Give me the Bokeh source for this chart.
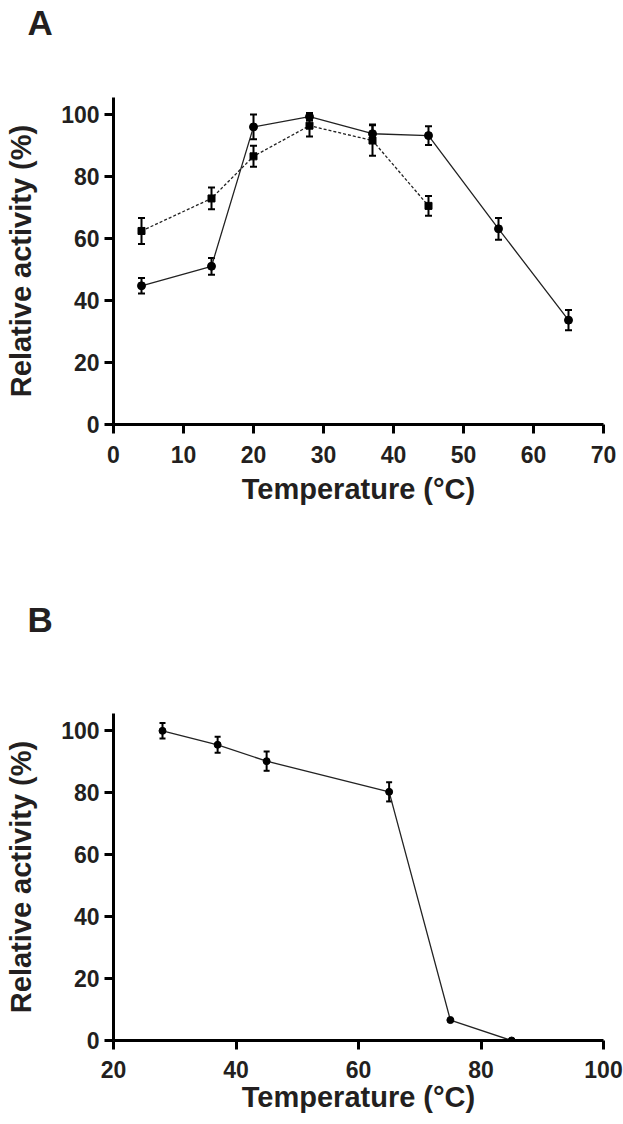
from bokeh.plotting import figure
from bokeh.models import Range1d, FixedTicker, Whisker, TeeHead, ColumnDataSource, Title
from bokeh.layouts import column
from bokeh.embed import file_html
from bokeh.resources import INLINE

FONT = "Liberation Sans"
INK = "#231f20"

# ---- data ----
a_temp_circle = [4, 14, 20, 28, 37, 45, 55, 65]
a_act_circle = [44.8, 51.1, 96.1, 99.4, 93.9, 93.3, 63.2, 33.7]
a_err_circle = [2.5, 2.7, 4.0, 1.2, 3.0, 3.0, 3.5, 3.3]

a_temp_square = [4, 14, 20, 28, 37, 45]
a_act_square = [62.5, 73.0, 86.6, 96.5, 91.7, 70.6]
a_err_square = [4.2, 3.5, 3.4, 3.5, 4.9, 3.2]

b_temp = [28, 37, 45, 65, 75, 85]
b_act = [100.0, 95.5, 90.2, 80.3, 6.6, 0.0]
b_err = [2.5, 2.6, 3.1, 3.1, 0.0, 0.0]

y_ticks = [0, 20, 40, 60, 80, 100]
a_x_ticks = [0, 10, 20, 30, 40, 50, 60, 70]
b_x_ticks = [20, 40, 60, 80, 100]

panel_letters = ["A", "B"]
X_LABEL = "Temperature (°C)"
Y_LABEL = "Relative activity (%)"


def style(p, xticks, letter, gap):
    p.grid.visible = False
    p.outline_line_color = None
    # spacer (closest to the frame) pushes the panel letter to the top
    spacer = Title(text=" ", text_font_size="10px", standoff=gap)
    p.add_layout(spacer, "above")
    p.title.text = letter
    p.title.align = "left"
    p.title.offset = -86
    p.title.standoff = 0
    p.title.text_font = FONT
    p.title.text_font_style = "bold"
    p.title.text_font_size = "35px"
    p.title.text_color = INK
    p.xaxis.ticker = FixedTicker(ticks=xticks)
    p.yaxis.ticker = FixedTicker(ticks=y_ticks)
    for ax in (p.xaxis[0], p.yaxis[0]):
        ax.axis_line_width = 3
        ax.axis_line_color = "black"
        ax.major_tick_line_width = 3
        ax.major_tick_line_color = "black"
        ax.major_tick_out = 9
        ax.major_tick_in = 0
        ax.minor_tick_line_color = None
        ax.major_label_text_font = FONT
        ax.major_label_text_font_style = "bold"
        ax.major_label_text_font_size = "23px"
        ax.major_label_text_color = INK
        ax.axis_label_text_font = FONT
        ax.axis_label_text_font_size = "29px"
        ax.axis_label_text_font_style = "bold"
        ax.axis_label_text_color = INK
    p.xaxis.major_label_standoff = 12
    p.xaxis.axis_label_standoff = 7
    p.yaxis.major_label_standoff = 5
    p.yaxis.axis_label_standoff = 21


def errorbars(p, xs, ys, es, size):
    keep = [i for i, e in enumerate(es) if e > 0]
    src = ColumnDataSource(dict(
        x=[xs[i] for i in keep],
        lower=[ys[i] - es[i] for i in keep],
        upper=[ys[i] + es[i] for i in keep],
    ))
    w = Whisker(base="x", lower="lower", upper="upper", source=src, dimension="height",
                line_width=2, line_color="black",
                upper_head=TeeHead(size=size, line_width=2, line_color="black"),
                lower_head=TeeHead(size=size, line_width=2, line_color="black"))
    p.add_layout(w)


# ---- panel A ----
pa = figure(output_backend="svg", toolbar_location=None,
            frame_width=490, frame_height=327,
            min_border_left=113, min_border_right=20,
            min_border_top=97, min_border_bottom=161,
            x_range=Range1d(0, 70), y_range=Range1d(0, 105.6),
            x_axis_label=X_LABEL, y_axis_label=Y_LABEL)
style(pa, a_x_ticks, panel_letters[0], 43)

pa.line(a_temp_square, a_act_square, line_width=1.3, line_color="#222222", line_dash="3 2")
pa.line(a_temp_circle, a_act_circle, line_width=1.3, line_color="#222222")
errorbars(pa, a_temp_square, a_act_square, a_err_square, 7)
errorbars(pa, a_temp_circle, a_act_circle, a_err_circle, 7)
pa.scatter(a_temp_square, a_act_square, marker="square", size=7, color="black")
pa.scatter(a_temp_circle, a_act_circle, marker="circle", size=8, color="black")

# ---- panel B ----
pb = figure(output_backend="svg", toolbar_location=None,
            frame_width=490, frame_height=327,
            min_border_left=113, min_border_right=20,
            min_border_top=128, min_border_bottom=82,
            x_range=Range1d(20, 100), y_range=Range1d(0, 105.6),
            x_axis_label=X_LABEL, y_axis_label=Y_LABEL)
style(pb, b_x_ticks, panel_letters[1], 62)
pb.xaxis.major_label_standoff = 11
pb.xaxis.axis_label_standoff = 0

pb.line(b_temp, b_act, line_width=1.3, line_color="#222222")
errorbars(pb, b_temp, b_act, b_err, 6)
pb.scatter(b_temp, b_act, marker="circle", size=7, color="black")

layout = column(pa, pb)
open("out.html", "w").write(file_html(layout, INLINE))
